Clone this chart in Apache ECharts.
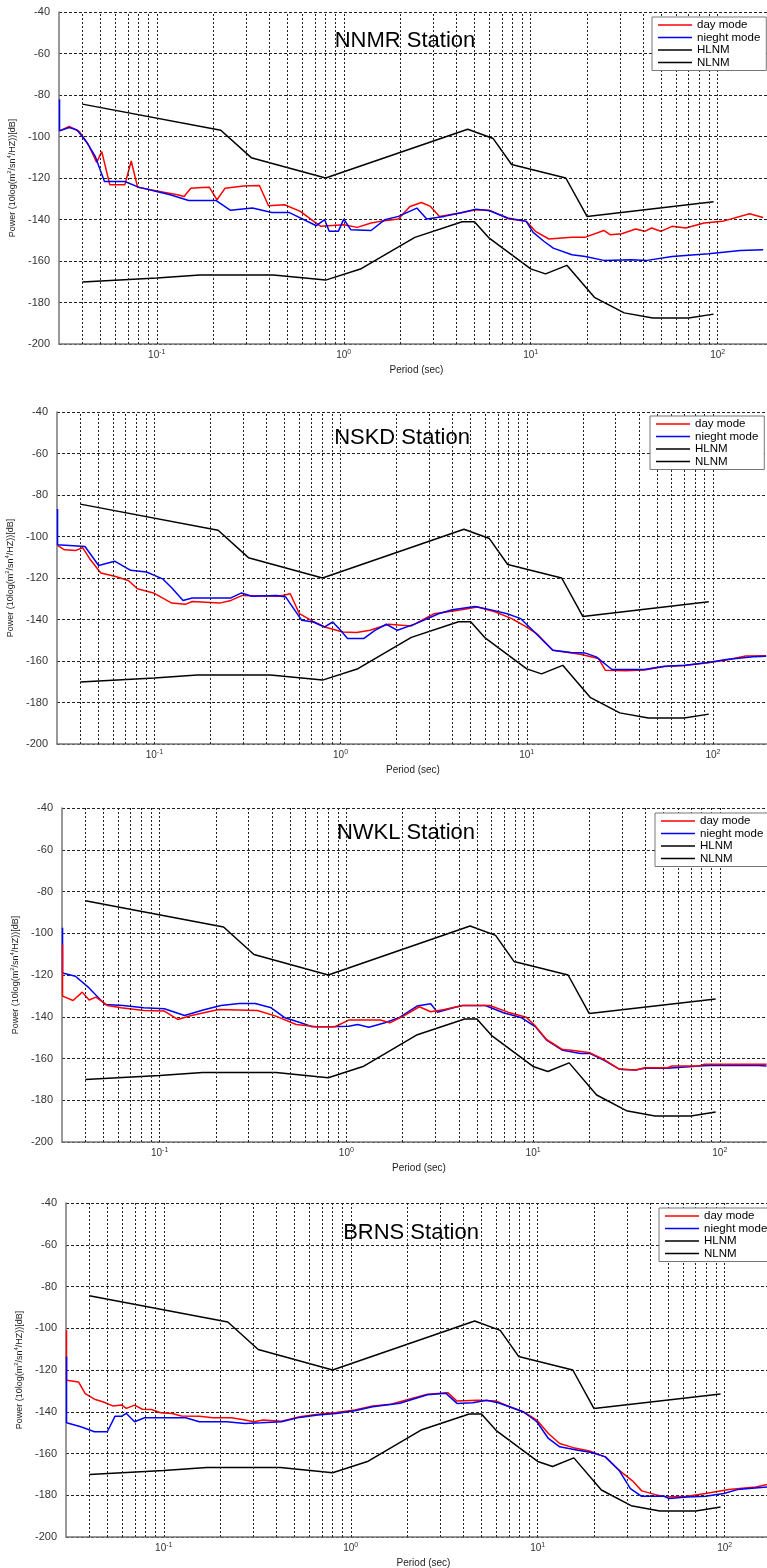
<!DOCTYPE html>
<html>
<head>
<meta charset="utf-8">
<title>Station noise PSD</title>
<script src="https://cdn.jsdelivr.net/npm/echarts@6/dist/echarts.min.js"></script>
<style>
  html, body { margin: 0; padding: 0; background: #fff; }
  #chart { width: 767px; height: 1568px; }
</style>
</head>
<body>
<div id="chart"></div>
<script>
// names shown in the picture
var stations = ['NNMR Station', 'NSKD Station', 'NWKL Station', 'BRNS Station'];
var seriesNames = ['day mode', 'nieght mode', 'HLNM', 'NLNM'];

// x tick labels (decades) and the dotted minor grid periods
var decades = [0.1, 1, 10, 100];
var decadeExp = ['-1', '0', '1', '2'];
var gridPeriods = [0.04, 0.05, 0.06, 0.07, 0.08, 0.09,
  0.1, 0.2, 0.3, 0.4, 0.5, 0.6, 0.7, 0.8, 0.9,
  1, 2, 3, 4, 5, 6, 7, 8, 9,
  10, 20, 30, 40, 50, 60, 70, 80, 90, 100];

// Peterson noise models, same in every panel [period, dB]
var hlnm = [[0.04, -84.4], [0.22, -97], [0.32, -110.2], [0.8, -120], [4.6, -96.5],
  [6.3, -101], [7.9, -113.5], [15.4, -120], [20, -138.5], [95, -131.5]];
var nlnm = [[0.04, -170.1], [0.1, -168.2], [0.17, -166.7], [0.42, -166.7], [0.8, -169.2],
  [1.24, -163.7], [2.4, -148.6], [4.3, -141.1], [5.0, -141.1], [6.0, -149], [10, -163.8],
  [12, -166.2], [15.6, -162.1], [21.9, -177.5], [31.6, -185], [45, -187.5], [70, -187.5],
  [95, -185.6]];

// NNMR
var nnmrDay = [[0.0302, -97.3], [0.034, -95.2], [0.0385, -97.6], [0.0431, -104], [0.0477, -112.5],
  [0.0508, -107.3], [0.0561, -123.3], [0.0675, -123.3], [0.073, -111.8], [0.079, -124.5],
  [0.1, -126.2], [0.129, -128.1], [0.14, -128.9], [0.152, -124.9], [0.175, -124.6],
  [0.191, -124.4], [0.21, -130.5], [0.232, -124.9], [0.291, -123.8], [0.354, -123.6],
  [0.396, -133.4], [0.482, -132.9], [0.586, -136.1], [0.694, -141], [0.755, -143.3],
  [1.0, -142.5], [1.18, -143.8], [1.4, -141.7], [1.57, -140.9], [1.96, -139.8], [2.26, -133.7],
  [2.6, -131.8], [2.91, -133.7], [3.25, -138.5], [4.31, -136.6], [5.1, -135.3], [6.03, -135.6],
  [7.55, -139.6], [9.46, -140.9], [10.6, -145.7], [12.5, -149.4], [16.6, -148.6], [19.6, -148.5],
  [24.6, -145.3], [26.7, -147.4], [30.7, -146.9], [36.4, -144.6], [40.7, -145.7], [44.3, -144.1],
  [49.6, -145.7], [57, -143.3], [67.5, -144.1], [84.5, -141.7], [106, -140.9], [148, -137.2],
  [175, -139]];
var nnmrNight = [[0.0302, -82], [0.0302, -97.3], [0.034, -95.7], [0.0374, -96.8], [0.0419, -102.4],
  [0.0469, -109.6], [0.0525, -121.7], [0.0675, -121.7], [0.0798, -124.4], [0.1, -126.5],
  [0.118, -128.1], [0.148, -130.8], [0.207, -130.8], [0.248, -135.6], [0.325, -134.5],
  [0.412, -136.6], [0.509, -136.6], [0.714, -143], [0.79, -140.1], [0.836, -145.7],
  [0.935, -145.7], [1.0, -139.8], [1.09, -144.9], [1.4, -145.3], [1.66, -140.1], [1.96, -138.5],
  [2.46, -134.5], [2.78, -139.8], [3.44, -138.5], [4.19, -136.9], [5.1, -135], [6.03, -135.8],
  [7.55, -139.3], [9.46, -140.9], [10.3, -146.2], [11.8, -150.6], [13.2, -153.8], [16.6, -157],
  [19.6, -157.8], [24.6, -159.7], [34.4, -159.4], [41.9, -159.7], [57, -157.8], [89.4, -156.5],
  [132, -154.9], [175, -154.6]];

// NSKD
var nskdDay = [[0.0302, -104.3], [0.0329, -106.4], [0.0379, -106.7], [0.0412, -105.4], [0.0449, -110.7],
  [0.0516, -117.6], [0.0612, -119.2], [0.0725, -121.2], [0.0811, -125.2], [0.0989, -127.2],
  [0.1239, -132.1], [0.1468, -132.7], [0.1597, -131.3], [0.224, -132.1], [0.258, -130.8],
  [0.297, -128.4], [0.467, -128.8], [0.537, -127.6], [0.601, -137.2], [0.713, -140.9],
  [0.821, -143.6], [1.03, -146], [1.22, -146.3], [1.44, -145.2], [1.81, -142.3], [2.4, -143.1],
  [3.18, -137.2], [4.46, -135.3], [5.43, -134], [6.81, -136.4], [8.3, -139.6], [9.84, -143.3],
  [11.3, -146.8], [13.8, -154.8], [19.4, -156.7], [24.3, -158.8], [26.4, -164.4], [34, -164.7],
  [42.7, -164.3], [55, -162.7], [70.8, -162.2], [94, -160.9], [118, -159.5], [150, -157.6],
  [193, -157.5]];
var nskdNight = [[0.0302, -86.7], [0.0302, -104], [0.0424, -104.8], [0.0502, -114], [0.0612, -111.9],
  [0.0746, -116.3], [0.0908, -117.1], [0.1107, -120.4], [0.1239, -124.7], [0.1426, -130.8],
  [0.1597, -129.6], [0.258, -129.6], [0.294, -127.2], [0.333, -128.8], [0.454, -128.4],
  [0.508, -129.2], [0.619, -140.4], [0.713, -141.2], [0.821, -143.6], [0.908, -141.2],
  [1.0, -145.2], [1.09, -149.2], [1.33, -149.2], [1.53, -145.2], [1.76, -142.3], [2.02, -145.2],
  [2.54, -142], [3.36, -137.2], [3.98, -135.3], [5.28, -133.7], [6.62, -135.6], [7.85, -137.2],
  [9.29, -139.6], [11, -146], [13.8, -154.8], [17.3, -155.9], [20.5, -156.1], [23.6, -158],
  [28.7, -164.1], [42.7, -164.1], [55, -162.5], [70.8, -162], [94, -160.7], [118, -159.3],
  [165, -158], [193, -157.7]];

// NWKL
var nwklDay = [[0.0302, -105.4], [0.0302, -130.1], [0.0344, -132.2], [0.0385, -128.2], [0.0419, -132],
  [0.0456, -130.6], [0.0525, -134.6], [0.0621, -135.7], [0.0822, -137], [0.106, -137.3],
  [0.125, -141.3], [0.148, -139.4], [0.207, -136.5], [0.334, -137], [0.419, -139.7],
  [0.539, -143.7], [0.694, -144.8], [0.869, -144.8], [1.03, -141.6], [1.52, -141.6],
  [1.71, -142.9], [2.02, -139.7], [2.46, -135.2], [2.83, -137.6], [3.35, -136.5], [4.19, -134.6],
  [5.86, -134.6], [7.34, -137.8], [9.19, -140.2], [10.3, -144.5], [11.8, -150.9], [14.4, -155.7],
  [16.1, -156.1], [20.2, -157.3], [23.9, -160.4], [29.1, -165.2], [35.4, -165.5], [39.6, -164.4],
  [52.5, -164.4], [55.5, -163.6], [77.7, -163.6], [82.2, -162.8], [178, -162.8]];
var nwklNight = [[0.0302, -97.4], [0.0302, -119], [0.0354, -120.6], [0.0419, -126.2], [0.051, -134.1],
  [0.0638, -134.6], [0.0822, -135.7], [0.106, -136.2], [0.136, -139.4], [0.171, -136.8],
  [0.213, -134.6], [0.267, -133.7], [0.325, -133.7], [0.396, -135.7], [0.469, -140.5],
  [0.57, -142.9], [0.656, -144.8], [0.822, -144.8], [1.03, -144.5], [1.15, -143.7], [1.32, -145],
  [1.61, -142.9], [1.91, -140.5], [2.39, -134.9], [2.83, -133.8], [3.07, -137.8], [3.74, -135.7],
  [4.19, -134.6], [5.55, -134.6], [6.94, -138.1], [8.69, -140.5], [10.3, -144.8], [11.8, -151.2],
  [14.4, -156.1], [18, -157.6], [20.2, -157.6], [23.9, -160.8], [29.1, -165.2], [35.4, -165.5],
  [39.6, -164.7], [52.5, -164.7], [77.7, -163.6], [86.9, -163.3], [161, -163.3], [178, -163.6]];

// BRNS
var brnsDay = [[0.0302, -100.9], [0.0302, -124.9], [0.035, -125.7], [0.038, -131.3], [0.0426, -134],
  [0.0476, -135.3], [0.0533, -137.2], [0.0597, -136.8], [0.0631, -138.4], [0.0698, -136.8],
  [0.0768, -138.8], [0.0859, -138.9], [0.0961, -140.5], [0.111, -140.8], [0.124, -142],
  [0.155, -142.1], [0.183, -142.9], [0.23, -142.9], [0.272, -144], [0.304, -144.8], [0.34, -144],
  [0.426, -144.5], [0.533, -142.4], [0.667, -141.2], [0.836, -140.4], [1.05, -139.2],
  [1.31, -137.2], [1.64, -136.4], [2.05, -134], [2.57, -131.6], [3.31, -130.9], [3.7, -134.9],
  [4.76, -134.5], [5.97, -134.8], [7.06, -137.6], [8.36, -140], [9.89, -144], [11.4, -150.4],
  [13.1, -155.2], [15.5, -157.2], [18.9, -158.8], [23, -161.6], [27.2, -168], [32.1, -173.1],
  [36, -177.9], [42.6, -179.7], [49, -180.8], [63.1, -180.5], [79, -179.2], [105, -177.3],
  [147, -176], [171, -174.7]];
var brnsNight = [[0.0302, -113.7], [0.0302, -145.3], [0.036, -147.2], [0.0426, -149.6], [0.0499, -149.6],
  [0.0549, -142.1], [0.0597, -142.1], [0.0631, -140.8], [0.0698, -144.8], [0.079, -142.9],
  [0.131, -142.9], [0.155, -144.8], [0.217, -144.8], [0.272, -145.6], [0.331, -145.3],
  [0.426, -144.8], [0.533, -142.7], [0.667, -141.6], [0.836, -140.8], [1.05, -139.5],
  [1.31, -137.6], [1.83, -135.9], [2.57, -131.9], [3.22, -131.1], [3.7, -136], [4.5, -135.7],
  [5.33, -134.5], [6.13, -135.7], [7.06, -137.6], [8.36, -140], [9.89, -144.8], [11.4, -152.8],
  [13.1, -156.8], [16.4, -158.4], [19.4, -159.5], [23, -161.6], [27.2, -168], [31.3, -176.8],
  [36, -180.5], [47.6, -180.5], [50.4, -181.6], [63.1, -180.8], [79, -180.5], [98.9, -179.2],
  [117, -177.3], [171, -176]];

var dayData = [nnmrDay, nskdDay, nwklDay, brnsDay];
var nightData = [nnmrNight, nskdNight, nwklNight, brnsNight];

// panel placement in the 767x1568 page
var layout = [
  { top: 12, height: 332, left: 59, right: -7, title: [405, 41], legend: [652, 17] },
  { top: 412, height: 332, left: 57, right: -2, title: [402, 438], legend: [650, 416] },
  { top: 808, height: 334, left: 62, right: -9, title: [406, 833], legend: [655, 813] },
  { top: 1203, height: 334, left: 66, right: -14, title: [411, 1233], legend: [659, 1208] }
];

var font = '"Liberation Sans", Arial, Helvetica, sans-serif';
// thin bar used as legend sample line
var lineIcon = 'path://M0,0H34V1.6H0Z';

function xLabel(v) {
  for (var i = 0; i < decades.length; i++) {
    if (Math.abs(Math.log10(v) - Math.log10(decades[i])) < 1e-6) {
      return '{b|10}{s|' + decadeExp[i] + '}';
    }
  }
  return '';
}

var grids = [], xAxes = [], yAxes = [], legends = [], series = [], graphics = [];

layout.forEach(function (p, i) {
  grids.push({ left: p.left, right: p.right, top: p.top, height: p.height, outerBoundsMode: 'none', containLabel: false });

  xAxes.push({
    type: 'log', logBase: 10, gridIndex: i, min: 0.03, max: 200,
    name: 'Period (sec)', nameLocation: 'middle', nameGap: 21,
    nameTextStyle: { fontSize: 10, color: '#222', fontFamily: font },
    axisLine: { show: true, onZero: false, lineStyle: { color: '#777', width: 1.5 } },
    axisTick: { show: false }, minorTick: { show: false },
    splitLine: { show: false }, minorSplitLine: { show: false },
    axisLabel: {
      show: true, showMinLabel: true, showMaxLabel: true, margin: 5,
      formatter: xLabel,
      rich: {
        b: { fontSize: 10, lineHeight: 13, color: '#333', fontFamily: font },
        s: { fontSize: 7, lineHeight: 7, color: '#333', fontFamily: font, verticalAlign: 'top' }
      }
    }
  });

  yAxes.push({
    type: 'value', gridIndex: i, min: -200, max: -40, interval: 20,
    name: '{n|Power (10log(m}{s|2}{n|/sn}{s|4}{n|/HZ))[dB]}',
    nameLocation: 'middle', nameRotate: 90, nameGap: 31,
    nameTextStyle: {
      rich: {
        n: { fontSize: 9, lineHeight: 12, color: '#222', fontFamily: font },
        s: { fontSize: 6, lineHeight: 6, color: '#222', fontFamily: font, verticalAlign: 'top' }
      }
    },
    axisLine: { show: true, onZero: false, lineStyle: { color: '#777', width: 1.5 } },
    axisTick: { show: false },
    axisLabel: { fontSize: 11, color: '#333', margin: 9, fontFamily: font },
    splitLine: { show: true, lineStyle: { color: '#222', width: 1, type: [3, 2] } }
  });

  legends.push({
    left: p.legend[0], top: p.legend[1], orient: 'vertical', data: seriesNames,
    icon: lineIcon, symbolKeepAspect: true,
    backgroundColor: '#fff', borderColor: '#777', borderWidth: 1,
    padding: [2, 6, 2, 6], itemGap: 0.5, itemWidth: 34, itemHeight: 12,
    selectedMode: false, z: 10,
    textStyle: { fontSize: 11.5, lineHeight: 12, color: '#000', fontFamily: font }
  });

  graphics.push({
    type: 'text', x: p.title[0], y: p.title[1], z: 20,
    style: { text: stations[i], fontSize: 22, fontFamily: font, fill: '#000', align: 'center', verticalAlign: 'middle' }
  });

  // dotted vertical grid at 1..9 of each decade
  series.push({
    name: 'grid', type: 'line', xAxisIndex: i, yAxisIndex: i, data: [], z: 1, silent: true,
    markLine: {
      silent: true, symbol: ['none', 'none'], animation: false,
      label: { show: false },
      lineStyle: { color: '#222', width: 1, type: [2, 2] },
      emphasis: { disabled: true },
      data: gridPeriods.map(function (v) { return { xAxis: v }; })
    }
  });

  var day = {
    name: seriesNames[0], type: 'line', xAxisIndex: i, yAxisIndex: i, data: dayData[i],
    symbol: 'none', lineStyle: { color: '#ff0000', width: 1.5 }, itemStyle: { color: '#ff0000' }, z: 3
  };
  var night = {
    name: seriesNames[1], type: 'line', xAxisIndex: i, yAxisIndex: i, data: nightData[i],
    symbol: 'none', lineStyle: { color: '#0000ff', width: 1.5 }, itemStyle: { color: '#0000ff' }, z: 3
  };
  // red sits on top of blue only in the NWKL panel
  if (i === 2) { series.push(night, day); } else { series.push(day, night); }

  series.push({
    name: seriesNames[2], type: 'line', xAxisIndex: i, yAxisIndex: i, data: hlnm,
    symbol: 'none', lineStyle: { color: '#000', width: 1.5 }, itemStyle: { color: '#000' }, z: 3
  });
  series.push({
    name: seriesNames[3], type: 'line', xAxisIndex: i, yAxisIndex: i, data: nlnm,
    symbol: 'none', lineStyle: { color: '#000', width: 1.5 }, itemStyle: { color: '#000' }, z: 3
  });
});

var myChart = echarts.init(document.getElementById('chart'), null, { renderer: 'canvas' });
var option = {
  animation: false,
  backgroundColor: '#fff',
  textStyle: { fontFamily: font },
  grid: grids,
  xAxis: xAxes,
  yAxis: yAxes,
  legend: legends,
  graphic: graphics,
  series: series
};
myChart.setOption(option);
window.addEventListener('resize', myChart.resize);
</script>
</body>
</html>
